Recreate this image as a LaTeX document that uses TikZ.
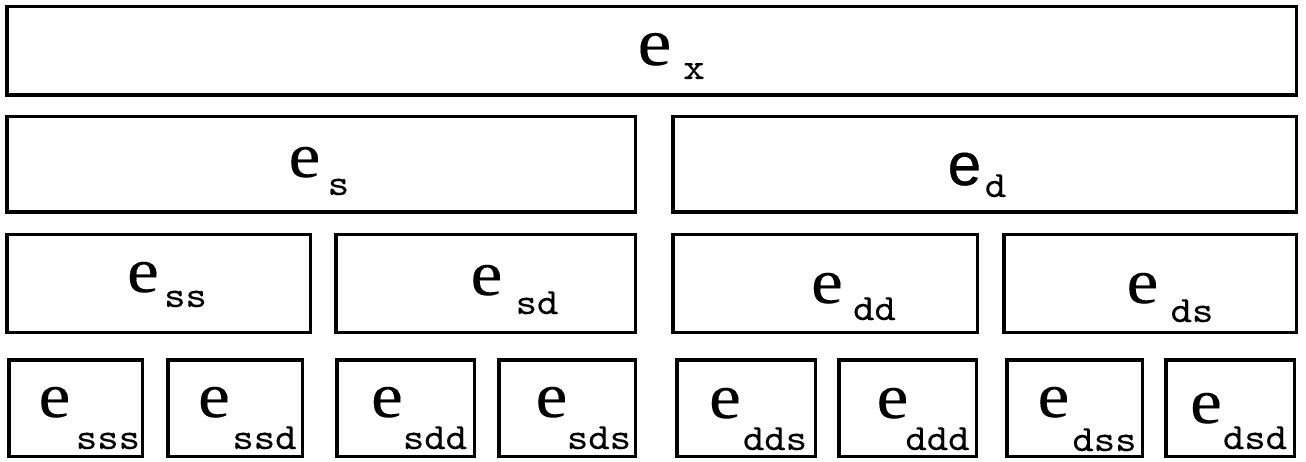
\documentclass[tikz,border=0pt]{standalone}
\usepackage{fontspec}
\setmainfont{Liberation Serif}
\newfontfamily\efont{Liberation Serif}[FakeBold=0.15]
\newfontfamily\sansfam{Liberation Sans}[FakeBold=0.7]
\newfontfamily\idxfont{lmmono10-regular.otf}[FakeBold=0.15]
\begin{document}
\begin{tikzpicture}[x=1pt, y=-1pt,
  cell/.style={draw=black, line width=3.5pt, rectangle, inner sep=0pt, fill=white},
  bigE/.style={inner sep=0pt, anchor=base, font=\efont\fontsize{64}{64}\selectfont},
  topE/.style={bigE, font=\efont\fontsize{68}{68}\selectfont},
  sansE/.style={inner sep=0pt, anchor=base, font=\sansfam\fontsize{60}{60}\selectfont},
  idx/.style={inner sep=0pt, anchor=base, font=\idxfont\fontsize{37}{37}\selectfont}]
\newcommand{\wide}[1]{\scalebox{1.1}[1]{#1}}
\newcommand{\wideE}{\scalebox{1.12}[1]{e}}
\useasboundingbox (0,0) rectangle (1306,462);

% level 0
\node[cell, minimum width=1289.5pt, minimum height=88.5pt] (x) at (651.5,51) {};
% level 1
\node[cell, minimum width=628.5pt, minimum height=95.5pt] (s) at (321,164.5) {};
\node[cell, minimum width=623.5pt, minimum height=95.5pt] (d) at (984.5,164.5) {};
% level 2
\node[cell, minimum width=303.5pt, minimum height=97.5pt] (ss) at (158.5,283.5) {};
\node[cell, minimum width=299.5pt, minimum height=97.5pt] (sd) at (485.5,283.5) {};
\node[cell, minimum width=304.5pt, minimum height=97.5pt] (dd) at (825,283.5) {};
\node[cell, minimum width=292.5pt, minimum height=97.5pt] (ds) at (1150,283.5) {};
% level 3
\node[cell, minimum width=133.5pt, minimum height=96.5pt] (sss) at (75.5,408) {};
\node[cell, minimum width=134.5pt, minimum height=96.5pt] (ssd) at (235,408) {};
\node[cell, minimum width=137.5pt, minimum height=96.5pt] (sdd) at (405.5,408) {};
\node[cell, minimum width=136.5pt, minimum height=96.5pt] (sds) at (567,408) {};
\node[cell, minimum width=138.5pt, minimum height=96.5pt] (dds) at (746,408) {};
\node[cell, minimum width=137.5pt, minimum height=96.5pt] (ddd) at (907.5,408) {};
\node[cell, minimum width=135.5pt, minimum height=96.5pt] (dss) at (1074.5,408) {};
\node[cell, minimum width=128.5pt, minimum height=96.5pt] (dsd) at (1230,408) {};

% labels: letter e and its index
\node[topE] (xe) at (654.5,65) {\wideE};
\node[idx] (xi) at (694,79) {\wide{x}};

\node[bigE] (se) at (304.5,177) {\wideE};
\node[idx] (si) at (338.5,195) {\wide{s}};
\node[sansE] (de) at (964.5,185) {e};
\node[idx] (di) at (995.5,197) {\wide{d}};

\node[bigE] (sse) at (143,292) {\wideE};
\node[idx] (ssi) at (185.5,307) {\wide{ss}};
\node[bigE] (sde) at (486.5,295) {\wideE};
\node[idx] (sdi) at (537,314) {\wide{sd}};
\node[bigE] (dde) at (827,303) {\wideE};
\node[idx] (ddi) at (874.5,320) {\wide{dd}};
\node[bigE] (dse) at (1142.5,303) {\wideE};
\node[idx] (dsi) at (1192,322) {\wide{ds}};

\node[bigE] (ssse) at (54.5,417) {\wideE};
\node[idx] (sssi) at (108,449) {\wide{sss}};
\node[bigE] (ssde) at (214,417) {\wideE};
\node[idx] (ssdi) at (264.5,449) {\wide{ssd}};
\node[bigE] (sdde) at (387,417) {\wideE};
\node[idx] (sddi) at (435,449) {\wide{sdd}};
\node[bigE] (sdse) at (551.5,417) {\wideE};
\node[idx] (sdsi) at (599,449) {\wide{sds}};
\node[bigE] (ddse) at (725,418) {\wideE};
\node[idx] (ddsi) at (775,450) {\wide{dds}};
\node[bigE] (ddde) at (892.5,418) {\wideE};
\node[idx] (dddi) at (937.5,450) {\wide{ddd}};
\node[bigE] (dsse) at (1053.5,417) {\wideE};
\node[idx] (dssi) at (1104.5,451) {\wide{dss}};
\node[bigE] (dsde) at (1206,423) {\wideE};
\node[idx] (dsdi) at (1255,449) {\wide{dsd}};
\end{tikzpicture}
\end{document}
